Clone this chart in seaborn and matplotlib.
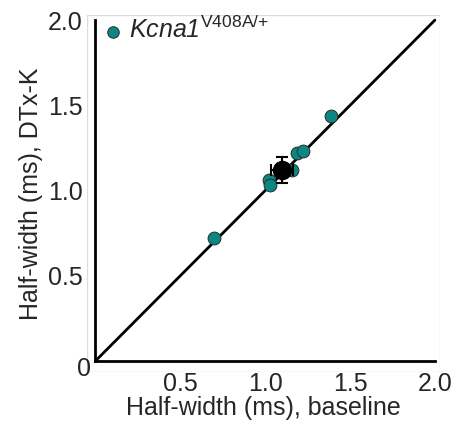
import numpy as np
import pandas as pd
import matplotlib
matplotlib.use("Agg")
import matplotlib.pyplot as plt
import seaborn as sns
from matplotlib.patches import Rectangle

# Half-width values (ms)
baseline = [0.70, 1.02, 1.03, 1.16, 1.19, 1.22, 1.39]
dtxk = [0.72, 1.06, 1.03, 1.12, 1.22, 1.23, 1.44]
mean_x, mean_y = 1.10, 1.12
sem_x, sem_y = 0.065, 0.075
unity = [0, 2.0]
tick_vals = [0.5, 1.0, 1.5, 2.0]
tick_labels = ["0.5", "1.0", "1.5", "2.0"]

sns.set_style("white")
plt.rcParams["font.family"] = ["Liberation Sans", "DejaVu Sans"]
plt.rcParams["mathtext.fontset"] = "custom"
plt.rcParams["mathtext.rm"] = "Liberation Sans"
plt.rcParams["mathtext.it"] = "Liberation Sans:italic"

df = pd.DataFrame({"baseline": baseline, "dtxk": dtxk})

fig = plt.figure(figsize=(4.59, 4.24), dpi=100)
ax = fig.add_axes([87 / 459, 52 / 424, 353 / 459, 357 / 424])

ax.plot(unity, unity, color="black", lw=2, zorder=1)
sns.scatterplot(data=df, x="baseline", y="dtxk", ax=ax, color="#0b8783",
                edgecolor="#2a2a2a", linewidth=0.7, s=85, zorder=3,
                label=r"Kcna1$^{\mathrm{V408A/{+}}}$")
ax.errorbar([mean_x], [mean_y], xerr=[sem_x], yerr=[sem_y], fmt="o",
            color="black", ms=13, elinewidth=1.5, capsize=4, capthick=1.5,
            zorder=4)

ax.set_xlim(-0.05, 2.03)
ax.set_ylim(-0.065, 2.03)

# light frame around plot area
for s in ax.spines.values():
    s.set_visible(False)
ax.add_patch(Rectangle((0, 0), 1, 1, transform=ax.transAxes, fill=False,
                       edgecolor="#dcdcdc", lw=1, zorder=0))

# black axes through the origin
for name in ["left", "bottom"]:
    sp = ax.spines[name]
    sp.set_visible(True)
    sp.set_position(("data", 0))
    sp.set_bounds(0, 2.0)
    sp.set_color("black")
    sp.set_linewidth(2)

ax.set_xticks(tick_vals)
ax.set_xticklabels(tick_labels)
ax.set_yticks(tick_vals)
ax.set_yticklabels(tick_labels)
ax.tick_params(axis="both", direction="in", length=4, width=1.5,
               labelsize=18, color="black")
ax.tick_params(axis="x", pad=8)
ax.tick_params(axis="y", pad=9)
ax.text(-0.07, -0.05, "0", fontsize=18, ha="center", va="center")

ax.set_xlabel("Half-width (ms), baseline", fontsize=18, labelpad=0)
ax.set_ylabel("Half-width (ms), DTx-K", fontsize=18, labelpad=4)

ax.legend(loc="upper left", bbox_to_anchor=(6 / 353, 1 + 4 / 357),
          frameon=False, prop={"size": 18, "style": "italic"},
          handlelength=1.2, handletextpad=0.05, borderaxespad=0.0,
          borderpad=0.2, markerscale=0.9)

fig.savefig("out.png", dpi=100)
